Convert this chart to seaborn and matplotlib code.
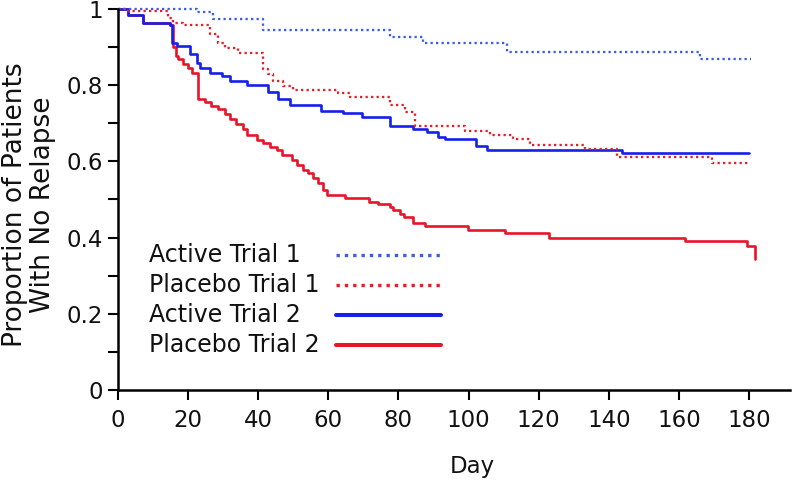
import matplotlib
matplotlib.use("Agg")
import matplotlib.pyplot as plt
from matplotlib.lines import Line2D
from matplotlib.ticker import MultipleLocator
import seaborn as sns
import pandas as pd

# ---- data ----
active1_day = [0, 22.4, 27.2, 41.4, 77.6, 87.1, 110.9, 166.0, 180.7]
active1_surv = [1.0, 0.992, 0.975, 0.944, 0.927, 0.912, 0.886, 0.869, 0.869]

placebo1_day = [0, 2.6, 14.3, 15.7, 18.5, 26.2, 28.5, 30.5, 34.3, 41.4, 42.8, 44.2,
                47.1, 49.9, 62.7, 66.2, 77.6, 81.9, 84.7, 99.0, 106.1, 112.7, 117.5,
                133.2, 142.3, 169.4, 180.3]
placebo1_surv = [1.0, 0.995, 0.977, 0.963, 0.957, 0.935, 0.911, 0.898, 0.885, 0.842,
                 0.830, 0.812, 0.799, 0.788, 0.779, 0.768, 0.747, 0.729, 0.694, 0.681,
                 0.670, 0.660, 0.644, 0.632, 0.612, 0.595, 0.595]

active2_day = [0, 2.9, 7.1, 14.8, 15.4, 16.8, 20.5, 22.5, 23.4, 26.2, 29.7, 31.9, 36.8,
               42.8, 45.6, 49.1, 57.9, 64.2, 69.6, 77.6, 84.1, 88.1, 91.3, 93.3, 102.1,
               105.2, 143.8, 180.0]
active2_surv = [1.0, 0.985, 0.964, 0.957, 0.911, 0.903, 0.881, 0.859, 0.846, 0.833, 0.823,
                0.812, 0.800, 0.781, 0.764, 0.747, 0.733, 0.726, 0.716, 0.693, 0.684,
                0.677, 0.664, 0.660, 0.641, 0.631, 0.623, 0.623]

placebo2_day = [0, 2.9, 7.1, 14.8, 15.7, 16.5, 17.1, 18.5, 20.0, 21.1, 22.8, 24.8, 26.5,
                28.5, 30.5, 31.9, 33.7, 35.7, 36.8, 39.6, 41.4, 43.4, 45.4, 46.8, 49.6,
                51.1, 52.8, 54.2, 55.6, 57.0, 58.5, 59.6, 64.7, 71.6, 74.2, 77.6, 78.4,
                80.4, 81.6, 84.1, 87.6, 99.8, 110.4, 122.9, 161.7, 179.4, 181.7]
placebo2_surv = [1.0, 0.985, 0.964, 0.957, 0.900, 0.877, 0.868, 0.855, 0.846, 0.833, 0.764,
                 0.755, 0.746, 0.737, 0.725, 0.712, 0.699, 0.686, 0.670, 0.657, 0.647,
                 0.638, 0.629, 0.616, 0.603, 0.590, 0.577, 0.569, 0.556, 0.543, 0.525,
                 0.512, 0.503, 0.494, 0.487, 0.480, 0.472, 0.463, 0.454, 0.439, 0.431,
                 0.420, 0.411, 0.400, 0.392, 0.377, 0.344]

series_names = ["Active Trial 1", "Placebo Trial 1", "Active Trial 2", "Placebo Trial 2"]
x_ticks = [0, 20, 40, 60, 80, 100, 120, 140, 160, 180]
y_ticks = [0, 0.2, 0.4, 0.6, 0.8, 1.0]
y_tick_labels = ["0", "0.2", "0.4", "0.6", "0.8", "1"]

# ---- style ----
sns.set_theme(style="ticks")
plt.rcParams["font.family"] = ["DejaVu Sans"]

W, H = 800, 484
AX_TOP = 9
fig = plt.figure(figsize=(8.0, 4.84), dpi=100)
ax = fig.add_axes([118 / W, 1 - 390 / H, 672 / W, (390 - AX_TOP) / H])

colors = {"Active Trial 1": "#3a5fe0", "Placebo Trial 1": "#e3202a",
          "Active Trial 2": "#1520e8", "Placebo Trial 2": "#e8142a"}
dotted = (0, (1.0, 1.4))
styles = {"Active Trial 1": dotted, "Placebo Trial 1": dotted,
          "Active Trial 2": "-", "Placebo Trial 2": "-"}
widths = {"Active Trial 1": 1.65, "Placebo Trial 1": 1.65,
          "Active Trial 2": 1.9, "Placebo Trial 2": 1.9}

data = {
    "Active Trial 1": (active1_day, active1_surv),
    "Placebo Trial 1": (placebo1_day, placebo1_surv),
    "Active Trial 2": (active2_day, active2_surv),
    "Placebo Trial 2": (placebo2_day, placebo2_surv),
}

# draw order: solid lines first, dotted on top
for name in ["Placebo Trial 2", "Active Trial 2", "Placebo Trial 1", "Active Trial 1"]:
    d, s = data[name]
    df = pd.DataFrame({"Day": d, "Proportion": s})
    sns.lineplot(data=df, x="Day", y="Proportion", ax=ax, estimator=None, sort=False,
                 drawstyle="steps-post", color=colors[name], linestyle=styles[name],
                 linewidth=widths[name], legend=False, clip_on=False)

ax.set_xlim(0, 191.7)
ax.set_ylim(0, 1.0)
ax.set_xticks(x_ticks)
ax.set_xticklabels([str(t) for t in x_ticks])
ax.set_yticks(y_ticks)
ax.set_yticklabels(y_tick_labels)
ax.yaxis.set_minor_locator(MultipleLocator(0.1))

for side in ["top", "right"]:
    ax.spines[side].set_visible(False)
for side in ["left", "bottom"]:
    ax.spines[side].set_color("black")
    ax.spines[side].set_linewidth(1.8)

ax.tick_params(axis="both", which="major", direction="out", length=7.5, width=1.5,
               color="black", labelsize=16.5, labelcolor="#111111")
ax.tick_params(axis="x", pad=6.5)
ax.tick_params(axis="y", pad=3.5)
ax.tick_params(axis="y", which="minor", direction="out", length=7.5, width=1.5,
               color="black")

ax.set_xlabel("Day", fontsize=16.5, color="#111111")
ax.xaxis.label.set_va("center")
ax.xaxis.set_label_coords((472 - 118) / 672, (390 - 466) / (390 - AX_TOP))

ax.set_ylabel("Proportion of Patients\nWith No Relapse", fontsize=19,
              color="#111111", linespacing=1.1)
ax.yaxis.label.set_va("center")
ax.yaxis.set_label_coords((29 - 118) / 672, (390 - 205) / (390 - AX_TOP))

# ---- legend (labels left-aligned, sample lines to the right) ----
leg_rows_y = [255, 285, 315, 345]
for name, yy in zip(series_names, leg_rows_y):
    fig.text(149 / W, 1 - yy / H, name, fontsize=17, color="#111111",
             ha="left", va="center")
    if styles[name] == "-":
        lw, ls = 2.9, "-"
    else:
        lw, ls = 2.4, (0, (1.0, 1.5))
    fig.add_artist(Line2D([336 / W, 441 / W], [1 - yy / H, 1 - yy / H],
                          color=colors[name], linestyle=ls, linewidth=lw,
                          transform=fig.transFigure))

fig.savefig("out.png", dpi=100)
